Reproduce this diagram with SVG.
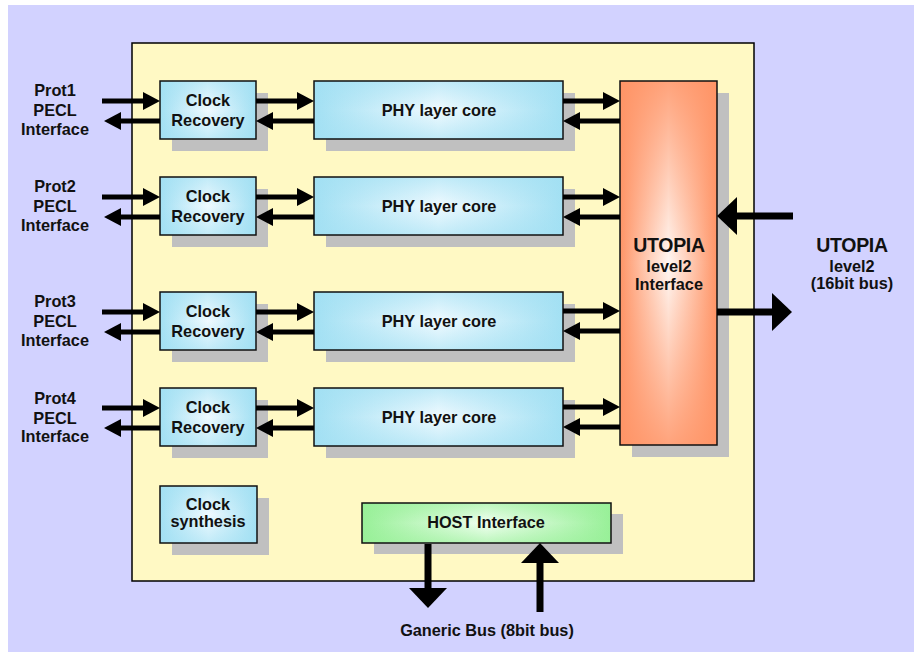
<svg xmlns="http://www.w3.org/2000/svg" width="914" height="652" viewBox="0 0 914 652">
<defs>
<style>
text{font-family:"Liberation Sans",Arial,sans-serif;font-weight:bold;fill:#111;text-anchor:middle}
.t{font-size:16.3px}
.big{font-size:19.5px;letter-spacing:-0.3px}
.box{stroke:#111;stroke-width:1.5}
.sh{fill:#c0c0c0}
.a{stroke:#000;stroke-width:5;fill:none;marker-end:url(#h)}
.A{stroke:#000;stroke-width:7;fill:none;marker-end:url(#H)}
</style>
<linearGradient id="bh" x1="0" y1="0" x2="1" y2="0">
<stop offset="0" stop-color="#a2e0f3"/><stop offset="0.5" stop-color="#f0faff"/><stop offset="1" stop-color="#a2e0f3"/>
</linearGradient>
<linearGradient id="bv" x1="0" y1="0" x2="0" y2="1">
<stop offset="0" stop-color="#a2e0f3" stop-opacity="0.6"/><stop offset="0.5" stop-color="#a2e0f3" stop-opacity="0"/><stop offset="1" stop-color="#a2e0f3" stop-opacity="0.6"/>
</linearGradient>
<linearGradient id="oh" x1="0" y1="0" x2="1" y2="0">
<stop offset="0" stop-color="#ff9466"/><stop offset="0.5" stop-color="#fff8f4"/><stop offset="1" stop-color="#ff9466"/>
</linearGradient>
<linearGradient id="ov" x1="0" y1="0" x2="0" y2="1">
<stop offset="0" stop-color="#ff9466" stop-opacity="0.85"/><stop offset="0.5" stop-color="#ff9466" stop-opacity="0"/><stop offset="1" stop-color="#ff9466" stop-opacity="0.85"/>
</linearGradient>
<linearGradient id="gh" x1="0" y1="0" x2="1" y2="0">
<stop offset="0" stop-color="#98f098"/><stop offset="0.5" stop-color="#f2fff2"/><stop offset="1" stop-color="#98f098"/>
</linearGradient>
<linearGradient id="gv" x1="0" y1="0" x2="0" y2="1">
<stop offset="0" stop-color="#98f098" stop-opacity="0.6"/><stop offset="0.5" stop-color="#98f098" stop-opacity="0"/><stop offset="1" stop-color="#98f098" stop-opacity="0.6"/>
</linearGradient>
<marker id="h" markerUnits="userSpaceOnUse" markerWidth="18" markerHeight="18" refX="0" refY="9" orient="auto" overflow="visible">
<path d="M0,0 L17,9 L0,18 Z" fill="#000"/>
</marker>
<marker id="H" markerUnits="userSpaceOnUse" markerWidth="20" markerHeight="38" refX="0" refY="19" orient="auto" overflow="visible">
<path d="M0,0 L20,19 L0,38 Z" fill="#000"/>
</marker>
</defs>
<rect width="914" height="652" fill="#fff"/>
<rect x="8" y="5" width="906" height="647" fill="#d2d2ff"/>
<rect id="chip" x="132" y="43" width="622" height="538" fill="#fff9c4" stroke="#000" stroke-width="1.5"/>

<g id="labels">
<text class="t" x="55" y="96">Prot1</text><text class="t" x="55" y="116">PECL</text><text class="t" x="55" y="135">Interface</text>
<text class="t" x="55" y="192">Prot2</text><text class="t" x="55" y="212">PECL</text><text class="t" x="55" y="231">Interface</text>
<text class="t" x="55" y="307">Prot3</text><text class="t" x="55" y="327">PECL</text><text class="t" x="55" y="346">Interface</text>
<text class="t" x="55" y="404">Prot4</text><text class="t" x="55" y="424">PECL</text><text class="t" x="55" y="442">Interface</text>
</g>
<g id="utopia-ext">
<text class="big" x="852" y="252">UTOPIA</text><text class="t" x="852" y="272">level2</text><text class="t" x="852" y="289">(16bit bus)</text>
</g>
<g id="generic-bus">
<text class="t" x="487" y="636">Ganeric Bus (8bit bus)</text>
</g>

<g id="cr1"><rect class="sh" x="172" y="93" width="96" height="58"/><rect x="160" y="81" width="96" height="58" fill="url(#bh)"/><rect class="box" x="160" y="81" width="96" height="58" fill="url(#bv)"/><text class="t" x="208" y="106">Clock</text><text class="t" x="208" y="126">Recovery</text></g>
<g id="cr2"><rect class="sh" x="172" y="189" width="96" height="58"/><rect x="160" y="177" width="96" height="58" fill="url(#bh)"/><rect class="box" x="160" y="177" width="96" height="58" fill="url(#bv)"/><text class="t" x="208" y="202">Clock</text><text class="t" x="208" y="222">Recovery</text></g>
<g id="cr3"><rect class="sh" x="172" y="304" width="96" height="58"/><rect x="160" y="292" width="96" height="58" fill="url(#bh)"/><rect class="box" x="160" y="292" width="96" height="58" fill="url(#bv)"/><text class="t" x="208" y="317">Clock</text><text class="t" x="208" y="337">Recovery</text></g>
<g id="cr4"><rect class="sh" x="172" y="400" width="96" height="58"/><rect x="160" y="388" width="96" height="58" fill="url(#bh)"/><rect class="box" x="160" y="388" width="96" height="58" fill="url(#bv)"/><text class="t" x="208" y="413">Clock</text><text class="t" x="208" y="433">Recovery</text></g>

<g id="phy1"><rect class="sh" x="326" y="93" width="249" height="58"/><rect x="314" y="81" width="249" height="58" fill="url(#bh)"/><rect class="box" x="314" y="81" width="249" height="58" fill="url(#bv)"/><text class="t" x="439" y="116">PHY layer core</text></g>
<g id="phy2"><rect class="sh" x="326" y="189" width="249" height="58"/><rect x="314" y="177" width="249" height="58" fill="url(#bh)"/><rect class="box" x="314" y="177" width="249" height="58" fill="url(#bv)"/><text class="t" x="439" y="212">PHY layer core</text></g>
<g id="phy3"><rect class="sh" x="326" y="304" width="249" height="58"/><rect x="314" y="292" width="249" height="58" fill="url(#bh)"/><rect class="box" x="314" y="292" width="249" height="58" fill="url(#bv)"/><text class="t" x="439" y="327">PHY layer core</text></g>
<g id="phy4"><rect class="sh" x="326" y="400" width="249" height="58"/><rect x="314" y="388" width="249" height="58" fill="url(#bh)"/><rect class="box" x="314" y="388" width="249" height="58" fill="url(#bv)"/><text class="t" x="439" y="423">PHY layer core</text></g>

<g id="utopia"><rect class="sh" x="632" y="93" width="97" height="364"/><rect x="620" y="81" width="97" height="364" fill="url(#oh)"/><rect class="box" x="620" y="81" width="97" height="364" fill="url(#ov)"/><text class="big" x="669" y="252">UTOPIA</text><text class="t" x="669" y="272">level2</text><text class="t" x="669" y="290">Interface</text></g>

<g id="clksyn"><rect class="sh" x="172" y="498" width="97" height="57"/><rect x="160" y="486" width="97" height="57" fill="url(#bh)"/><rect class="box" x="160" y="486" width="97" height="57" fill="url(#bv)"/><text class="t" x="208" y="510">Clock</text><text class="t" x="208" y="527">synthesis</text></g>

<g id="host"><rect class="sh" x="374" y="514" width="249" height="40"/><rect x="362" y="503" width="249" height="40" fill="url(#gh)"/><rect class="box" x="362" y="503" width="249" height="40" fill="url(#gv)"/><text class="t" x="486" y="528">HOST Interface</text></g>

<g id="connectors">
<line class="a" x1="102" y1="101" x2="143" y2="101"/><line class="a" x1="160" y1="121" x2="121" y2="121"/>
<line class="a" x1="256" y1="101" x2="297" y2="101"/><line class="a" x1="314" y1="121" x2="273" y2="121"/>
<line class="a" x1="563" y1="101" x2="603" y2="101"/><line class="a" x1="620" y1="121" x2="580" y2="121"/>

<line class="a" x1="102" y1="197" x2="143" y2="197"/><line class="a" x1="160" y1="217" x2="121" y2="217"/>
<line class="a" x1="256" y1="197" x2="297" y2="197"/><line class="a" x1="314" y1="217" x2="273" y2="217"/>
<line class="a" x1="563" y1="197" x2="603" y2="197"/><line class="a" x1="620" y1="217" x2="580" y2="217"/>

<line class="a" x1="102" y1="312" x2="143" y2="312"/><line class="a" x1="160" y1="332" x2="121" y2="332"/>
<line class="a" x1="256" y1="312" x2="297" y2="312"/><line class="a" x1="314" y1="332" x2="273" y2="332"/>
<line class="a" x1="563" y1="311" x2="603" y2="311"/><line class="a" x1="620" y1="331" x2="580" y2="331"/>

<line class="a" x1="102" y1="408" x2="143" y2="408"/><line class="a" x1="160" y1="428" x2="121" y2="428"/>
<line class="a" x1="256" y1="408" x2="297" y2="408"/><line class="a" x1="314" y1="428" x2="273" y2="428"/>
<line class="a" x1="563" y1="407" x2="603" y2="407"/><line class="a" x1="620" y1="427" x2="580" y2="427"/>

<line class="A" x1="793" y1="216" x2="737" y2="216"/>
<line class="A" x1="717" y1="312" x2="772" y2="312"/>
<line class="A" x1="428" y1="544" x2="428" y2="588"/>
<line class="A" x1="540" y1="612" x2="540" y2="563"/>
</g>
</svg>
